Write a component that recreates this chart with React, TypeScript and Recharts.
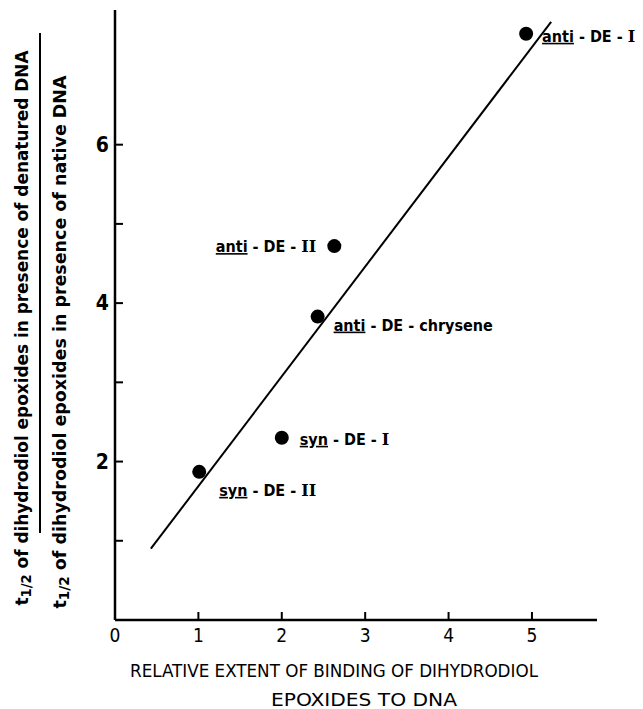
import React from 'react';
import { ComposedChart, Scatter, Line, XAxis, YAxis } from 'recharts';

// compounds, relative binding extent, t1/2 ratio
const compounds = ['anti-DE-I', 'anti-DE-II', 'anti-DE-chrysene', 'syn-DE-I', 'syn-DE-II'];
const bindingExtent = [4.93, 2.63, 2.43, 2.0, 1.01];
const halfLifeRatio = [7.4, 4.72, 3.83, 2.3, 1.87];

// fitted line end points
const fitX = [0.43, 5.23];
const fitY = [0.9, 7.55];

const xTicks = [0, 1, 2, 3, 4, 5];
const yTicks = [1, 2, 3, 4, 5, 6];
const yLabelled = [2, 4, 6];

const points = compounds.map((name, i) => ({ name, x: bindingExtent[i], y: halfLifeRatio[i] }));
const fitLine = fitX.map((x, i) => ({ x, y: fitY[i] }));

// where each label sits relative to its dot
const labelPlacement: Record<string, { dx: number; dy: number; anchor: 'start' | 'end' }> = {
  'anti-DE-I': { dx: 16, dy: 8, anchor: 'start' },
  'anti-DE-II': { dx: -18, dy: 6, anchor: 'end' },
  'anti-DE-chrysene': { dx: 16, dy: 14, anchor: 'start' },
  'syn-DE-I': { dx: 18, dy: 7, anchor: 'start' },
  'syn-DE-II': { dx: 20, dy: 24, anchor: 'start' },
};

const FONT = '"DejaVu Sans Condensed", "DejaVu Sans", sans-serif';

const XTick = (props: any) => {
  const { x, y, payload } = props;
  return (
    <g>
      <line x1={x} y1={y} x2={x} y2={y - 8} stroke="#000" strokeWidth={2} />
      <text x={x} y={y + 22} textAnchor="middle" fontFamily={FONT} fontSize={19} fill="#000">
        {payload.value}
      </text>
    </g>
  );
};

const YTick = (props: any) => {
  const { x, y, payload } = props;
  return (
    <g>
      <line x1={x} y1={y} x2={x + 8} y2={y} stroke="#000" strokeWidth={2} />
      {yLabelled.includes(payload.value) && (
        <text x={x - 6} y={y + 7} textAnchor="end" fontFamily={FONT} fontWeight="bold" fontSize={21} fill="#000">
          {payload.value}
        </text>
      )}
    </g>
  );
};

const DotWithLabel = (props: any) => {
  const { cx, cy, payload } = props;
  const p = labelPlacement[payload.name];
  const [prefix, ...rest] = payload.name.split('-');
  const roman = rest[rest.length - 1];
  const isRoman = roman === 'I' || roman === 'II';
  const middle = isRoman ? rest.slice(0, -1) : rest;
  return (
    <g>
      <circle cx={cx} cy={cy} r={7} fill="#000" />
      <text
        x={cx + p.dx}
        y={cy + p.dy}
        textAnchor={p.anchor}
        fontFamily={FONT}
        fontWeight="bold"
        fontSize={16}
        fill="#000"
      >
        <tspan textDecoration="underline">{prefix}</tspan>
        <tspan>{' - ' + middle.join(' - ') + (isRoman ? ' - ' : '')}</tspan>
        {isRoman && <tspan fontFamily='"DejaVu Serif", serif'>{roman}</tspan>}
      </text>
    </g>
  );
};

export default function App() {
  return (
    <div style={{ position: 'absolute', left: 0, top: 0, width: 643, height: 709, background: '#fff' }}>
      <ComposedChart width={643} height={709} margin={{ top: 10, right: 46, bottom: 0, left: 0 }}>
        <XAxis
          type="number"
          dataKey="x"
          domain={[0, 5.78]}
          ticks={xTicks}
          tick={<XTick />}
          tickLine={false}
          tickSize={0}
          tickMargin={0}
          height={89}
          axisLine={{ stroke: '#000', strokeWidth: 2.5 }}
        />
        <YAxis
          type="number"
          dataKey="y"
          domain={[0, 7.7]}
          ticks={yTicks}
          tick={<YTick />}
          tickLine={false}
          tickSize={0}
          tickMargin={0}
          width={115}
          axisLine={{ stroke: '#000', strokeWidth: 2.5 }}
        />
        <Line
          data={fitLine}
          dataKey="y"
          type="linear"
          stroke="#000"
          strokeWidth={2}
          dot={false}
          activeDot={false}
          isAnimationActive={false}
        />
        <Scatter data={points} dataKey="y" shape={<DotWithLabel />} isAnimationActive={false} />
      </ComposedChart>
      <svg width={643} height={709} style={{ position: 'absolute', left: 0, top: 0, pointerEvents: 'none' }}>
        <text
          transform="translate(28, 328) rotate(-90)"
          textAnchor="middle"
          fontFamily={FONT}
          fontWeight="bold"
          fontSize={18}
          textLength={555}
          lengthAdjust="spacingAndGlyphs"
          fill="#000"
        >
          t<tspan fontSize={14} dy={3}>1/2</tspan><tspan dy={-3}> of  dihydrodiol  epoxides  in  presence  of  denatured DNA</tspan>
        </text>
        <line x1={40} y1={33} x2={40} y2={533} stroke="#000" strokeWidth={2} />
        <text
          transform="translate(66, 342) rotate(-90)"
          textAnchor="middle"
          fontFamily={FONT}
          fontWeight="bold"
          fontSize={18}
          textLength={533}
          lengthAdjust="spacingAndGlyphs"
          fill="#000"
        >
          t<tspan fontSize={14} dy={3}>1/2</tspan><tspan dy={-3}> of  dihydrodiol  epoxides  in  presence  of  native  DNA</tspan>
        </text>
        <text
          x={334}
          y={677}
          textAnchor="middle"
          fontFamily={FONT}
          fontSize={18}
          textLength={408}
          lengthAdjust="spacingAndGlyphs"
          fill="#000"
        >
          RELATIVE EXTENT OF BINDING OF DIHYDRODIOL
        </text>
        <text
          x={364}
          y={706}
          textAnchor="middle"
          fontFamily={FONT}
          fontSize={18}
          textLength={186}
          lengthAdjust="spacingAndGlyphs"
          fill="#000"
        >
          EPOXIDES TO DNA
        </text>
      </svg>
    </div>
  );
}
